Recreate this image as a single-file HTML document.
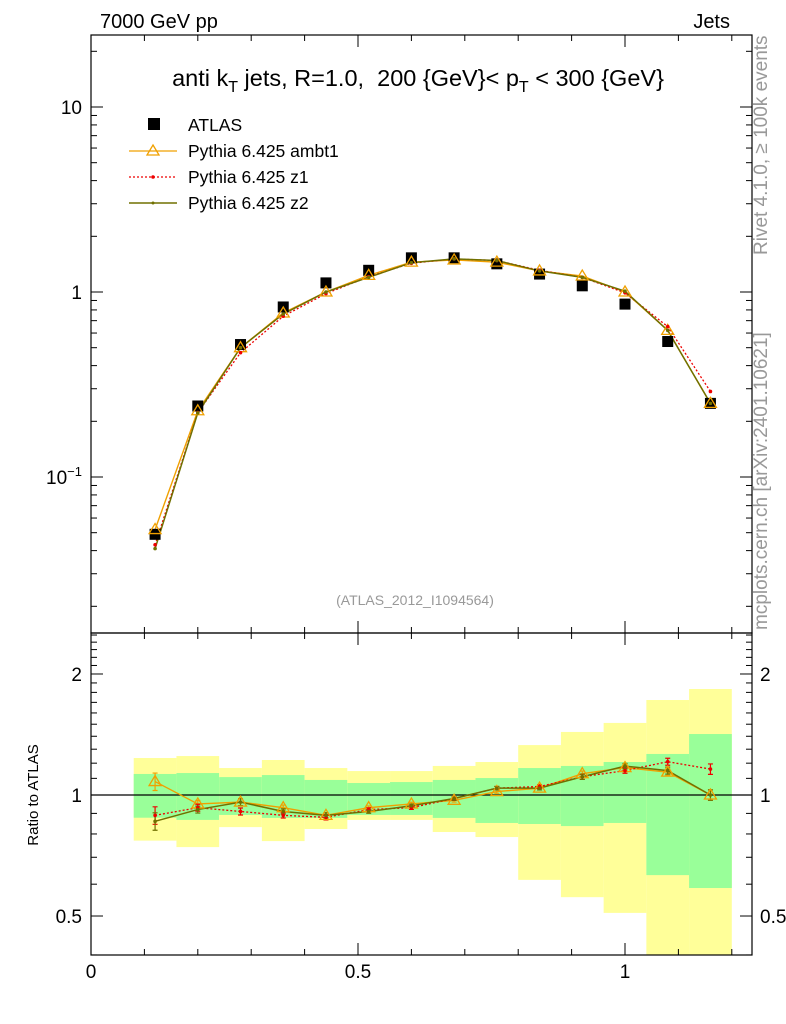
<!DOCTYPE html>
<html><head><meta charset="utf-8"><style>
body{margin:0;background:#fff;}
svg{display:block;font-family:"Liberation Sans",sans-serif;}
</style></head><body>
<svg id="c" width="786" height="1024" viewBox="0 0 786 1024" xmlns="http://www.w3.org/2000/svg">
<text x="100" y="28" font-size="20">7000 GeV pp</text>
<text x="730" y="28" font-size="20" text-anchor="end">Jets</text>
<text x="418" y="86" font-size="23.5" text-anchor="middle" xml:space="preserve">anti k<tspan font-size="16" dy="6">T</tspan><tspan dy="-6"> jets, R=1.0,  200 {GeV}&lt; p</tspan><tspan font-size="16" dy="6">T</tspan><tspan dy="-6"> &lt; 300 {GeV}</tspan></text>
<text x="415" y="605" font-size="14" fill="#999" text-anchor="middle">(ATLAS_2012_I1094564)</text>
<text transform="translate(767,630) rotate(-90)" font-size="19" fill="#999">mcplots.cern.ch [arXiv:2401.10621]</text>
<text transform="translate(767,255) rotate(-90)" font-size="19" fill="#999">Rivet 4.1.0, ≥ 100k events</text>
<text transform="translate(38,795) rotate(-90)" font-size="15" text-anchor="middle">Ratio to ATLAS</text>
<g id="bands"></g><g id="marks"></g><g id="axes"></g>
<g>
<rect x="148" y="118" width="12" height="12" fill="#000"/>
<text x="188" y="131" font-size="17.5">ATLAS</text>
<line x1="129" y1="151" x2="177" y2="151" stroke="#f0a000" stroke-width="1.3"/>
<polygon points="153,145 159,155 147,155" fill="none" stroke="#f0a000" stroke-width="1.3"/>
<text x="188" y="157" font-size="17.5">Pythia 6.425 ambt1</text>
<line x1="129" y1="177" x2="177" y2="177" stroke="#e00" stroke-width="1.3" stroke-dasharray="2,2"/>
<circle cx="153" cy="177" r="1.8" fill="#e00"/>
<text x="188" y="183" font-size="17.5">Pythia 6.425 z1</text>
<line x1="129" y1="203" x2="177" y2="203" stroke="#707000" stroke-width="1.5"/>
<circle cx="153" cy="203" r="1.5" fill="#707000"/>
<text x="188" y="209" font-size="17.5">Pythia 6.425 z2</text>
</g>
</svg>
<script>
const xs=[0.12,0.2,0.28,0.36,0.44,0.52,0.6,0.68,0.76,0.84,0.92,1.0,1.08,1.16];
const atlas=[0.049,0.242,0.52,0.83,1.12,1.31,1.53,1.53,1.42,1.25,1.08,0.86,0.54,0.25];
const ambt1=[0.052,0.228,0.50,0.77,1.00,1.23,1.45,1.49,1.45,1.30,1.22,1.00,0.62,0.25];
const z1=[0.043,0.223,0.47,0.74,0.98,1.21,1.43,1.51,1.48,1.31,1.20,0.99,0.65,0.29];
const z2=[0.041,0.222,0.50,0.76,1.00,1.20,1.44,1.51,1.48,1.30,1.20,1.01,0.62,0.25];
const rAmbt1=[1.08,0.95,0.96,0.93,0.89,0.93,0.95,0.97,1.02,1.04,1.13,1.17,1.14,1.0];
const rZ1=[0.89,0.93,0.91,0.89,0.88,0.92,0.93,0.98,1.04,1.05,1.11,1.15,1.21,1.16];
const rZ2=[0.86,0.92,0.96,0.91,0.89,0.91,0.94,0.98,1.04,1.04,1.11,1.18,1.15,1.0];
const rErr=[0.05,0.02,0.02,0.015,0.015,0.01,0.01,0.01,0.01,0.01,0.015,0.015,0.02,0.03];
const greenHi=[1.128,1.134,1.108,1.121,1.09,1.071,1.077,1.09,1.102,1.167,1.181,1.208,1.265,1.418];
const greenLo=[0.878,0.867,0.892,0.877,0.877,0.892,0.892,0.877,0.852,0.847,0.837,0.852,0.632,0.587];
const yelHi=[1.236,1.25,1.167,1.222,1.167,1.147,1.147,1.181,1.208,1.331,1.435,1.511,1.723,1.835];
const yelLo=[0.77,0.742,0.832,0.768,0.823,0.867,0.867,0.809,0.786,0.615,0.557,0.509,0.39,0.39];
const binW=0.08;
const NS="http://www.w3.org/2000/svg";
const X=v=>91+v*534;
const Y=v=>292-185*Math.log10(v);
const R=v=>795-402*Math.log10(v);
const clampR=y=>Math.max(633,Math.min(955,y));
function el(p,tag,a){const e=document.createElementNS(NS,tag);for(const k in a)e.setAttribute(k,a[k]);p.appendChild(e);return e;}
const bands=document.getElementById('bands'),marks=document.getElementById('marks'),axes=document.getElementById('axes');
xs.forEach((x,i)=>{
 const x0=X(x-binW/2),w=X(x+binW/2)-x0;
 let y1=clampR(R(yelHi[i])),y2=clampR(R(yelLo[i]));
 const a=el(bands,'rect',{x:x0,y:y1,width:w,height:y2-y1,fill:'#ffff99'});
 
 
 y1=clampR(R(greenHi[i]));y2=clampR(R(greenLo[i]));
 const b=el(bands,'rect',{x:x0,y:y1,width:w,height:y2-y1,fill:'#99ff99'});
 
 
});
el(bands,'line',{x1:91,y1:R(1),x2:752,y2:R(1),stroke:'#000','stroke-width':1.2});
function series(vals,yf,color,dash,w,name){
 const p=el(marks,'polyline',{points:vals.map((v,i)=>X(xs[i])+','+yf(v)).join(' '),fill:'none',stroke:color,'stroke-width':w});
 if(dash)p.setAttribute('stroke-dasharray',dash);
 
 
}
function errs(vals,yf,color,name){
 vals.forEach((v,i)=>{const cx=X(xs[i]);const e=el(marks,'path',{d:`M${cx},${yf(v*(1+rErr[i]))}V${yf(v*(1-rErr[i]))}M${cx-2.5},${yf(v*(1+rErr[i]))}h5M${cx-2.5},${yf(v*(1-rErr[i]))}h5`,stroke:color,'stroke-width':1.2,fill:'none'});
 
 });
}
series(ambt1,Y,'#f0a000',null,1.4,'ambt1-line');
series(z1,Y,'#e00','2,2',1.3,'z1-line');
series(z2,Y,'#707000',null,1.5,'z2-line');
atlas.forEach((v,i)=>{
 const r=el(marks,'rect',{x:X(xs[i])-5.5,y:Y(v)-5.5,width:11,height:11,fill:'#000'});
 
 
});
function pts(vals,yf,kind,name){
 vals.forEach((v,i)=>{
  const cx=X(xs[i]),cy=yf(v);let e;
  if(kind==='tri')e=el(marks,'polygon',{points:`${cx},${cy-6} ${cx+6},${cy+4} ${cx-6},${cy+4}`,fill:'none',stroke:'#f0a000','stroke-width':1.3});
  else e=el(marks,'circle',{cx:cx,cy:cy,r:1.8,fill:kind});
  
  
 });
}
pts(ambt1,Y,'tri','ambt1-point');pts(z1,Y,'#e00','z1-point');pts(z2,Y,'#707000','z2-point');
series(rAmbt1,R,'#f0a000',null,1.4,'ambt1-ratio-line');
series(rZ1,R,'#e00','2,2',1.3,'z1-ratio-line');
series(rZ2,R,'#707000',null,1.5,'z2-ratio-line');
errs(rAmbt1,R,'#f0a000','ambt1-ratio-error');errs(rZ1,R,'#e00','z1-ratio-error');errs(rZ2,R,'#707000','z2-ratio-error');
pts(rAmbt1,R,'tri','ambt1-ratio-point');pts(rZ1,R,'#e00','z1-ratio-point');pts(rZ2,R,'#707000','z2-ratio-point');
[[35,633],[633,955]].forEach(([t,b])=>el(axes,'rect',{x:91,y:t,width:661,height:b-t,fill:'none',stroke:'#000','stroke-width':1.2}));
for(let k=0;k<=12;k++){const v=k/10,x=X(v),L=(k%5===0)?12:6;
 el(axes,'line',{x1:x,y1:955,x2:x,y2:955-L,stroke:'#000'});el(axes,'line',{x1:x,y1:633,x2:x,y2:633+L,stroke:'#000'});
 el(axes,'line',{x1:x,y1:35,x2:x,y2:35+L,stroke:'#000'});el(axes,'line',{x1:x,y1:633,x2:x,y2:633-L,stroke:'#000'});
}
const xTickLabels=['0','0.5','1'];
xTickLabels.forEach(s=>{const t=el(axes,'text',{x:X(+s),y:978,'font-size':19,'text-anchor':'middle'});t.textContent=s;
 });
for(let d=-2;d<=1;d++)for(let m=1;m<=9;m++){const v=m*Math.pow(10,d),y=Y(v);if(y<35||y>633)continue;const L=m===1?12:6;
 el(axes,'line',{x1:91,y1:y,x2:91+L,y2:y,stroke:'#000'});el(axes,'line',{x1:752,y1:y,x2:752-L,y2:y,stroke:'#000'});}
[[10,'10'],[1,'1']].forEach(([v,s])=>{const t=el(axes,'text',{x:82,y:Y(v)+7,'font-size':19,'text-anchor':'end'});t.textContent=s;
 });
{const t=el(axes,'text',{x:82,y:Y(0.1)+7,'font-size':19,'text-anchor':'end'});t.innerHTML='10<tspan font-size="13" dy="-8">−1</tspan>';
 }
for(let v=0.4;v<=2.55;v+=0.1){const vv=Math.round(v*10)/10;const y=R(vv);if(y<633||y>955)continue;const major=(vv===0.5||vv===1||vv===2);const L=major?12:6;
 el(axes,'line',{x1:91,y1:y,x2:91+L,y2:y,stroke:'#000'});el(axes,'line',{x1:752,y1:y,x2:752-L,y2:y,stroke:'#000'});}
const rLabels=['0.5','1','2'];
rLabels.forEach(s=>{[[82,'end'],[760,'start']].forEach(([x,a])=>{const t=el(axes,'text',{x:x,y:R(+s)+7,'font-size':19,'text-anchor':a});t.textContent=s;
 });});
</script>
</body></html>
